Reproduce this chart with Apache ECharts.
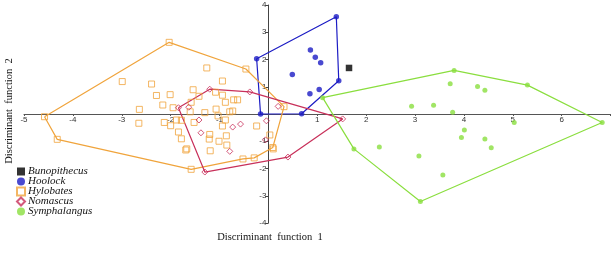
<!DOCTYPE html>
<html>
<head>
<meta charset="utf-8">
<script src="https://cdn.jsdelivr.net/npm/echarts@6/dist/echarts.min.js"></script>
<style>
html, body { margin: 0; padding: 0; background: #fff; }
#main { width: 614px; height: 254px; }
</style>
</head>
<body>
<div id="main"></div>
<script>
// 各类群判别得分 (x = 判别函数1, y = 判别函数2)
var speciesNames = ['Bunopithecus', 'Hoolock', 'Hylobates', 'Nomascus', 'Symphalangus'];

var bunoPoints = [[1.65, 1.69]];

var hoolockHull = [[-0.24, 2.03], [1.39, 3.57], [1.44, 1.22], [0.68, 0.01], [-0.16, 0.0]];
var hoolockInner = [[0.49, 1.45], [0.86, 2.35], [0.96, 2.08], [1.07, 1.88], [0.85, 0.74], [1.04, 0.90]];

var hylobatesHull = [[-4.58, -0.10], [-2.03, 2.63], [-0.46, 1.65], [0.32, 0.27], [0.09, -1.23],
    [-0.29, -1.61], [-0.52, -1.65], [-1.58, -2.03], [-4.32, -0.93]];
var hylobatesInner = [[-2.99, 1.19], [-2.39, 1.10], [-2.29, 0.68], [-2.01, 0.71], [-2.16, 0.33],
    [-2.64, 0.17], [-1.95, 0.23], [-1.54, 0.89], [-1.42, 0.65], [-1.26, 1.69], [-0.94, 1.21],
    [-1.08, 0.80], [-0.94, 0.69], [-0.88, 0.43], [-0.71, 0.52], [-0.63, 0.52], [-1.58, 0.43],
    [-1.60, 0.08], [-1.30, 0.05], [-1.07, 0.18], [-0.79, 0.08], [-0.73, 0.11],
    [-2.65, -0.34], [-2.13, -0.31], [-2.00, -0.43], [-1.88, -0.22], [-1.78, -0.23], [-1.84, -0.66],
    [-1.78, -0.91], [-1.67, -1.28], [-1.69, -1.32], [-1.52, -0.31], [-1.20, -0.75], [-1.21, -0.92],
    [-1.19, -1.35], [-1.01, -1.00], [-0.94, -0.44], [-0.88, -0.22], [-0.86, -0.80], [-0.85, -1.14],
    [-1.03, -0.07], [-0.24, -0.44], [0.03, -0.77], [0.10, -1.28]];

var nomascusHull = [[-1.84, 0.23], [-1.20, 0.91], [-0.38, 0.81], [1.52, -0.18], [0.40, -1.58], [-1.30, -2.13]];
var nomascusInner = [[-1.63, 0.25], [-1.42, -0.22], [-1.38, -0.69], [-0.73, -0.48], [-0.57, -0.37],
    [-0.79, -1.37], [-0.04, -0.25], [-0.06, -0.95], [0.20, 0.28]];

var symphHull = [[3.80, 1.60], [5.30, 1.06], [6.83, -0.31], [3.11, -3.21], [1.75, -1.28], [1.11, 0.60]];
var symphInner = [[3.72, 1.11], [4.28, 1.01], [4.43, 0.87], [2.93, 0.28], [3.38, 0.32], [3.77, 0.06],
    [5.03, -0.31], [4.01, -0.59], [3.95, -0.86], [4.43, -0.92], [4.56, -1.24], [2.27, -1.21],
    [3.08, -1.54], [3.57, -2.24]];

var xTicks = [-5, -4, -3, -2, -1, 1, 2, 3, 4, 5, 6];
var yTicks = [-4, -3, -2, -1, 1, 2, 3, 4];

var chart = echarts.init(document.getElementById('main'));

//网格尺寸, 坐标轴要移到原点处
var gridLeft = 24, gridRight = 3.5, gridTop = 5, gridBottom = 31;
var gridW = 614 - gridLeft - gridRight;
var gridH = 254 - gridTop - gridBottom;
var yAxisOffset = -gridW * 5 / 12;
var xAxisOffset = -gridH / 2;

//闭合多边形
function closeHull(hull) {
    return hull.concat([hull[0]]);
}

function hullSeries(name, hull, color) {
    return {
        name: name + ' hull',
        type: 'line',
        data: closeHull(hull),
        symbol: 'none',
        lineStyle: { color: color, width: 1.2 },
        z: 2,
        silent: true
    };
}

var colBlue = '#1c1cc4';
var colOrange = '#f0a43c';
var colRed = '#c8305a';
var colGreen = '#8ade3e';

var option = {
    animation: false,
    grid: { left: gridLeft, right: gridRight, top: gridTop, bottom: gridBottom, containLabel: false },
    legend: {
        orient: 'vertical',
        left: 16,
        top: 166,
        padding: 0,
        itemGap: -1,
        itemWidth: 8,
        itemHeight: 8,
        textStyle: { fontFamily: 'Liberation Serif', fontStyle: 'italic', fontSize: 11, color: '#111', padding: [0, 0, 0, -2] },
        data: [
            { name: 'Bunopithecus', icon: 'rect' },
            { name: 'Hoolock', icon: 'circle' },
            { name: 'Hylobates', icon: 'rect' },
            { name: 'Nomascus', icon: 'diamond' },
            { name: 'Symphalangus', icon: 'circle' }
        ]
    },
    xAxis: {
        type: 'value',
        min: -5,
        max: 7,
        interval: 1,
        position: 'bottom',
        offset: xAxisOffset,
        splitLine: { show: false },
        axisLine: { onZero: false, lineStyle: { color: '#555', width: 1 } },
        axisTick: { length: 2, lineStyle: { color: '#555' } },
        axisLabel: {
            fontSize: 8, color: '#333', margin: 2, fontFamily: 'Arial',
            formatter: function (v) { return xTicks.indexOf(v) >= 0 ? String(v) : ''; }
        }
    },
    yAxis: {
        type: 'value',
        min: -4,
        max: 4,
        interval: 1,
        position: 'left',
        offset: yAxisOffset,
        splitLine: { show: false },
        axisLine: { onZero: false, lineStyle: { color: '#444', width: 1 } },
        axisTick: { length: 3, lineStyle: { color: '#444' } },
        axisLabel: {
            fontSize: 8, color: '#333', margin: 2, fontFamily: 'Arial',
            formatter: function (v) { return yTicks.indexOf(v) >= 0 ? String(v) : ''; }
        }
    },
    graphic: [
        {
            type: 'text', x: 270, y: 237,
            style: { text: 'Discriminant  function  1', font: '10.5px "Liberation Serif"', fill: '#111', align: 'center', verticalAlign: 'middle' }
        },
        {
            type: 'text', x: 9, y: 111, rotation: Math.PI / 2,
            style: { text: 'Discriminant  function  2', font: '10.5px "Liberation Serif"', fill: '#111', align: 'center', verticalAlign: 'middle' }
        }
    ],
    series: [
        hullSeries('Hoolock', hoolockHull, colBlue),
        hullSeries('Hylobates', hylobatesHull, colOrange),
        hullSeries('Nomascus', nomascusHull, colRed),
        hullSeries('Symphalangus', symphHull, colGreen),
        {
            name: 'Hylobates', type: 'scatter', symbol: 'rect', symbolSize: 6, z: 3,
            itemStyle: { color: 'rgba(255,255,255,0)', borderColor: colOrange, borderWidth: 1 },
            data: hylobatesHull.concat(hylobatesInner)
        },
        {
            name: 'Nomascus', type: 'scatter', symbol: 'diamond', symbolSize: 6, z: 3,
            itemStyle: { color: 'rgba(255,255,255,0)', borderColor: colRed, borderWidth: 1 },
            data: nomascusHull.concat(nomascusInner)
        },
        {
            name: 'Hoolock', type: 'scatter', symbol: 'circle', symbolSize: 5.5, z: 3,
            itemStyle: { color: colBlue },
            data: hoolockHull.concat(hoolockInner)
        },
        {
            name: 'Symphalangus', type: 'scatter', symbol: 'circle', symbolSize: 5, z: 3,
            itemStyle: { color: colGreen },
            data: symphHull.concat(symphInner)
        },
        {
            name: 'Bunopithecus', type: 'scatter', symbol: 'rect', symbolSize: 6.5, z: 3,
            itemStyle: { color: '#000' },
            data: bunoPoints
        }
    ]
};

chart.setOption(option);
</script>
</body>
</html>
